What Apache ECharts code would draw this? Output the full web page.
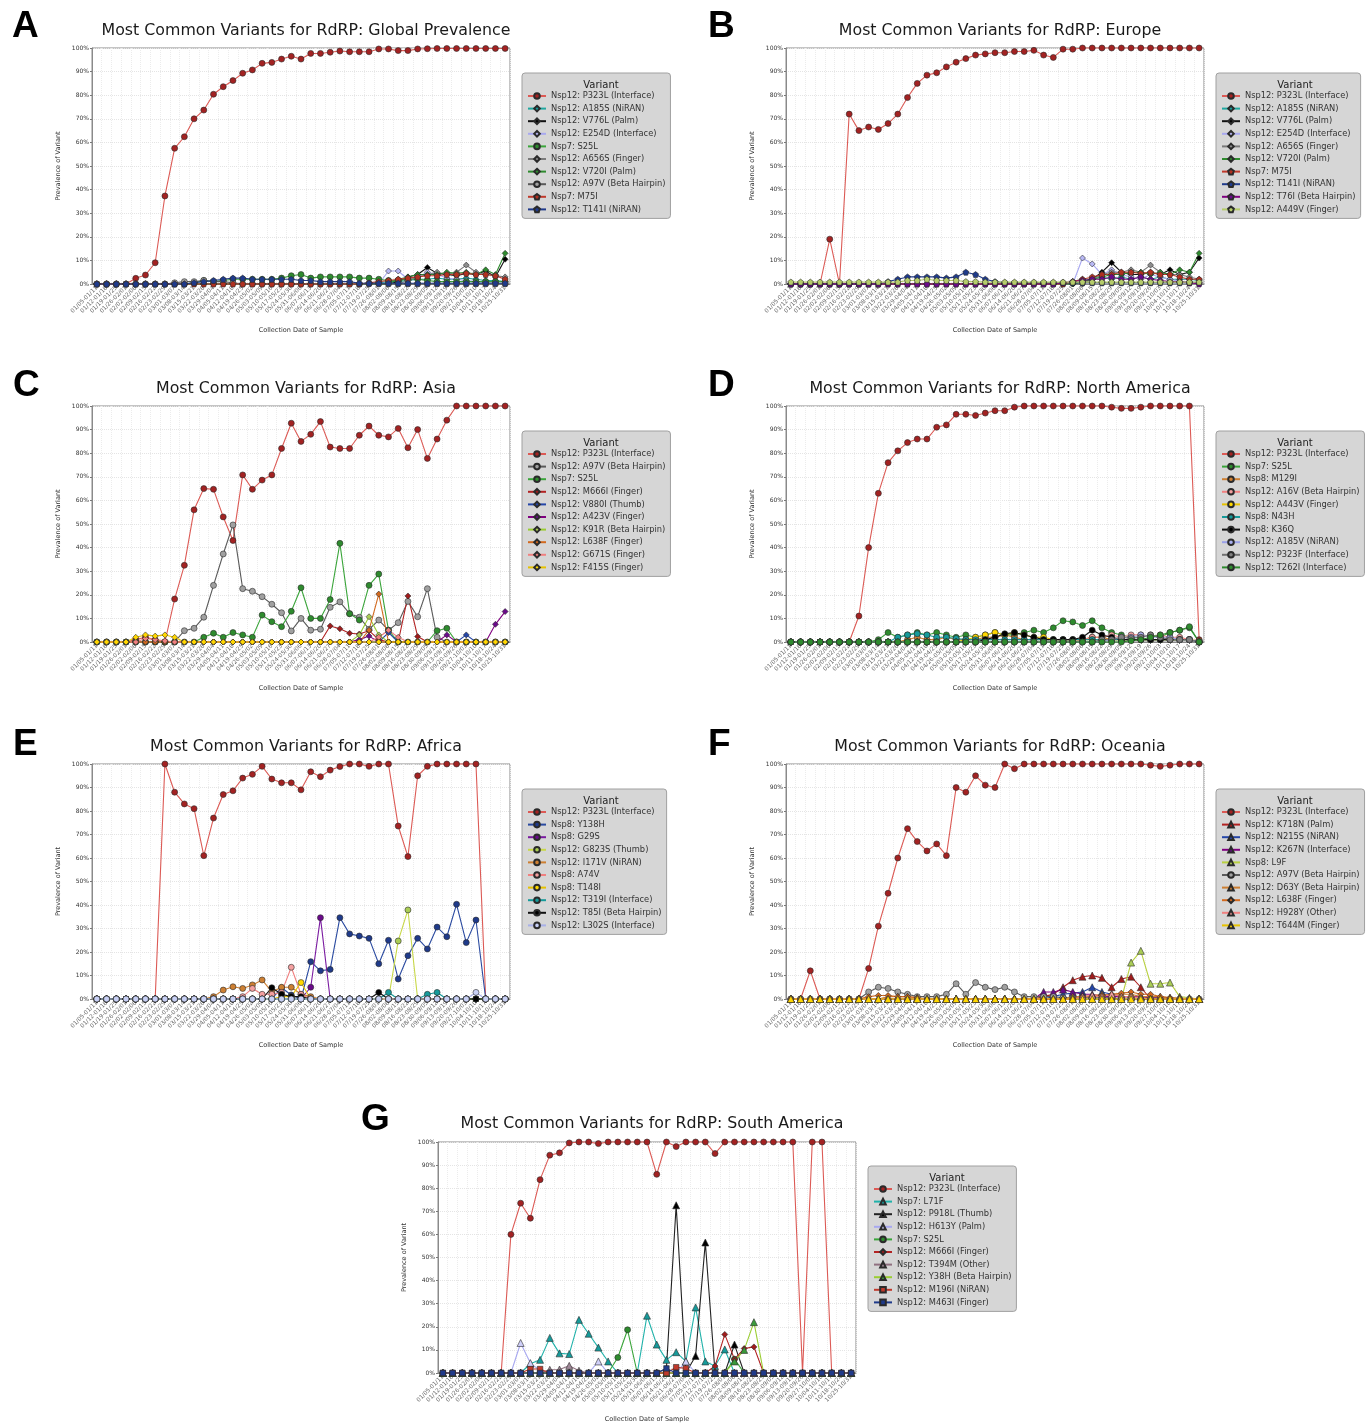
<!DOCTYPE html>
<html>
<head>
<meta charset="utf-8">
<script src="https://cdn.jsdelivr.net/npm/echarts@6/dist/echarts.min.js"></script>
<style>
  html, body { margin: 0; padding: 0; background: #fff; }
  #container { width: 1372px; height: 1424px; }
</style>
</head>
<body>
<div id="container"></div>
<script>
// weekly collection windows (2020)
var weekLabels = ['01/05-01/11','01/12-01/18','01/19-01/25','01/26-02/01','02/02-02/08','02/09-02/15','02/16-02/22','02/23-02/29','03/01-03/07','03/08-03/14',
  '03/15-03/21','03/22-03/28','03/29-04/04','04/05-04/11','04/12-04/18','04/19-04/25','04/26-05/02','05/03-05/09','05/10-05/16','05/17-05/23',
  '05/24-05/30','05/31-06/06','06/07-06/13','06/14-06/20','06/21-06/27','06/28-07/04','07/05-07/11','07/12-07/18','07/19-07/25','07/26-08/01',
  '08/02-08/08','08/09-08/15','08/16-08/22','08/23-08/29','08/30-09/05','09/06-09/12','09/13-09/19','09/20-09/26','09/27-10/03','10/04-10/10',
  '10/11-10/17','10/18-10/24','10/25-10/31'];
var yTicks = [0, 10, 20, 30, 40, 50, 60, 70, 80, 90, 100];

// ---- A: Global
var globalVariants = ['Nsp12: P323L (Interface)', 'Nsp12: A185S (NiRAN)', 'Nsp12: V776L (Palm)', 'Nsp12: E254D (Interface)', 'Nsp7: S25L',
  'Nsp12: A656S (Finger)', 'Nsp12: V720I (Palm)', 'Nsp12: A97V (Beta Hairpin)', 'Nsp7: M75I', 'Nsp12: T141I (NiRAN)'];
var gP323L = [0,0,0,0,2.4,3.8,9,37.3,57.5,62.4, 70,73.7,80.4,83.6,86.2,89.3,90.7,93.5,93.9,95.3, 96.5,95.3,97.7,97.7,98.2,98.7,98.4,98.4,98.4,99.6, 99.6,98.9,98.9,99.6,99.7,99.8,99.8,99.8,99.8,99.8, 99.8,99.8,99.8];
var gA185S = [0,0,0,0,0,0,0,0,0,0, 0,0,0,0,0,0,0,0,0,0, 0,0,0,0,0,0,0,0,0.5,0.5, 1,1,1.5,2,2,2.5,2,2,2.5,2, 1.5,1.5,1];
var gV776L = [0,0,0,0,0,0,0,0,0,0, 0,0,0,0,0,0,0,0,0,0, 0,0,0,0,0,0,0,0,0,0, 0,1,3,4,7,4.5,4,3.5,4.5,4, 5.5,3,10.5];
var gE254D = [0,0,0,0,0,0,0,0,0,0, 0,0,0,0,0,0,0,0,0,0, 0,0,0,0,0,0,0,0,0,0, 5.5,5.5,2,3,5,4,2.5,2,1.5,1, 0.5,0.5,0];
var gS25L = [0,0,0,0,0,0,0,0,0,0, 0.5,1.5,1,1.5,2,2,2,2,2,2.5, 3.5,4,2.5,3,3,3,3,2.5,2.5,2, 1.5,1.5,2,2,1.5,1,1,1,1,1, 1,1,1];
var gA656S = [0,0,0,0,0,0,0,0,0,0, 0,0,0,0,0,0,0,0,0,0, 0,0,0,0,0,0,0,0,0,0, 0,0,1.5,3,4,5,4,5,8,5, 4,3.5,3];
var gV720I = [0,0,0,0,0,0,0,0,0,0, 0,0,0,0,0,0,0,0,0,0, 0,0,0,0,0,0,0,0,0,0, 0,2,3,4,4,4,5,4.5,5,4, 6,4,13];
var gA97V = [0,0,0,0,0,0,0,0,0.5,1, 1,1.5,1,1,0.5,0,0,0,0,0, 0,0,0,0,0,0,0,0,0,0, 0,0,0,0,0,0,0,0,0,0, 0,0,0];
var gM75I = [0,0,0,0,0,0,0,0,0,0, 0,0,0,0,0,0,0,0,0,0, 0,0,0,0,0,0,0,0,0.5,1, 1.5,2,2.5,3,3.5,3.5,4,4,4.5,4, 4,3.5,2];
var gT141I = [0,0,0,0,0,0,0,0,0,0, 0.5,1,1.5,2,2.5,2.5,2,2,2,2, 2,1.5,1.5,1,1,1,1,0.3,0.3,0.3, 0.3,0.3,0.3,0.3,0.3,0.3,0.3,0.3,0.3,0.3, 0.3,0.3,0.3];
var globalValues = [gP323L, gA185S, gV776L, gE254D, gS25L, gA656S, gV720I, gA97V, gM75I, gT141I];

// ---- B: Europe
var europeVariants = ['Nsp12: P323L (Interface)', 'Nsp12: A185S (NiRAN)', 'Nsp12: V776L (Palm)', 'Nsp12: E254D (Interface)', 'Nsp12: A656S (Finger)',
  'Nsp12: V720I (Palm)', 'Nsp7: M75I', 'Nsp12: T141I (NiRAN)', 'Nsp12: T76I (Beta Hairpin)', 'Nsp12: A449V (Finger)'];
var eP323L = [0,0,0,0,19,0,72,65,66.5,65.5, 68,72,79,85,88.5,89.5,92,94,95.5,97, 97.5,98,98,98.5,98.5,99,97,96,99.5,99.5, 100,100,100,100,100,100,100,100,100,100, 100,100,100];
var eA185S = [0,0,0,0,0,0,0,0,0,0, 0,0,0,0,0,0,0,0,0,0, 0,0,0,0,0,0,0,0,0,1, 2,2,3,2,3,2,3,2,3,2, 2,2,1.5];
var eV776L = [0,0,0,0,0,0,0,0,0,0, 0,0,0,0,0,0,0,0,0,0, 0,0,0,0,0,0,0,0,0,0, 1,2,5,9,5,4,4,5,4,6, 4,5,11];
var eE254D = [0,0,0,0,0,0,0,0,0,0, 0,0,0,0,0,0,0,0,0,0, 0,0,0,0,0,0,0,0,0,0, 11,8.5,4,6,4,3,2,4,3,2, 1,1,0.5];
var eA656S = [0,0,0,0,0,0,0,0,0,0, 0,0,0,0,0,0,0,0,0,0, 0,0,0,0,0,0,0,0,0,0, 0,2,4,5,5,6,5,8,5,4, 4,3,2];
var eV720I = [0,0,0,0,0,0,0,0,0,0, 0,0,0,0,0,0,0,0,0,0, 0,0,0,0,0,0,0,0,0,0, 1,2,3,4,4,5,5,4,5,4, 6,5,13];
var eM75I = [0,0,0,0,0,0,0,0,0,0, 0,0,0,0,0,0,0,0,0,0, 0,0,0,0,0,0,0,0,0,1, 2,3,4,4,5,5,4.5,5,4,4, 3,2,2];
var eT141I = [0,0,0,0,0,0,0,0,0,0, 1,2,3,3,3,3,2.5,3,5,4, 2,1,0.5,0.5,0.5,0.5,0.5,0.5,0.5,0.5, 0.5,0.5,0.5,0.5,0.5,0.5,0.5,0.5,0.5,0.5, 0.5,0.5,0.5];
var eT76I = [0,0,0,0,0,0,0,0,0,0, 0,0,0,0,0,0,0,0,0,0, 0,0,0,0,0,0,0,0,0.5,1, 1.5,2,2,3,2,2,3,2,1.5,1, 1,0.5,0];
var eA449V = [0.8,0.8,0.8,0.8,0.8,0.8,0.8,0.8,0.8,0.8, 0.8,0.8,1.5,1.5,2,1.5,1.5,1.5,1,1, 0.8,0.8,0.8,0.8,0.8,0.8,0.8,0.8,0.8,0.8, 0.8,0.8,0.8,0.8,0.8,0.8,0.8,0.8,0.8,0.8, 0.8,0.8,0.8];
var europeValues = [eP323L, eA185S, eV776L, eE254D, eA656S, eV720I, eM75I, eT141I, eT76I, eA449V];

// ---- C: Asia
var asiaVariants = ['Nsp12: P323L (Interface)', 'Nsp12: A97V (Beta Hairpin)', 'Nsp7: S25L', 'Nsp12: M666I (Finger)', 'Nsp12: V880I (Thumb)',
  'Nsp12: A423V (Finger)', 'Nsp12: K91R (Beta Hairpin)', 'Nsp12: L638F (Finger)', 'Nsp12: G671S (Finger)', 'Nsp12: F415S (Finger)'];
var aP323L = [0,0,0,0,1,2,1,0,18.2,32.5, 56,65,64.7,53,43,70.8,64.7,68.6,70.8,82, 92.7,85,88,93.4,82.6,82,82,87.6,91.5,87.6, 86.9,90.5,82.3,90,77.8,86,94,100,100,100, 100,100,100];
var aA97V = [0,0,0,0,0,0,0,0,0,4.8, 5.8,10.5,24,37.3,49.6,22.6,21.5,19.2,16,12.4, 4.7,10,5,5.4,14.7,17,12,10.5,5.4,9.3, 5,8.2,17.2,10.7,22.6,2,0,0,0,0, 0,0,0];
var aS25L = [0,0,0,0,0,0,0,0,0,0, 0,2,3.7,2,4,3,2,11.4,8.6,6.5, 13,23,10,10,18,41.8,12,9.3,24,28.8, 5,0,0,0,0,4.8,5.8,0,0,0, 0,0,0];
var aM666I = [0,0,0,0,0,0,0,0,0,0, 0,0,0,0,0,0,0,0,0,0, 0,0,0,0,6.8,5.6,3.7,3.4,4.8,1, 0,0,19.5,2.3,0,0,0,0,0,0, 0,0,0];
var aV880I = [0,0,0,0,0,0,0,0,0,0, 0,0,0,0,0,0,0,0,0,0, 0,0,0,0,0,0,0,0,0,0, 4,0,0,0,0,0,0,0,3,0, 0,0,0];
var aA423V = [0,0,0,0,0,0,0,0,0,0, 0,0,0,0,0,0,0,0,0,0, 0,0,0,0,0,0,0,1,2.5,0, 0,0,0,0,0,0,3,0,0,0, 0,7.5,12.9];
var aK91R = [0,0,0,0,0,0,0,0,0,0, 0,0,0,0,0,0,0,0,0,0, 0,0,0,0,0,0,0,3,10.7,3, 0,0,0,0,0,0,0,0,0,0, 0,0,0];
var aL638F = [0,0,0,0,0,0,0,0,0,0, 0,0,0,0,0,0,0,0,0,0, 0,0,0,0,0,0,0,0,5,20.3, 0,0,0,0,0,0,0,0,0,0, 0,0,0];
var aG671S = [0,0,0,0,0,1.5,1,0.5,0,0, 0,0,0,0,0,0,0,0,0,0, 0,0,0,0,0,0,0,0,0,2, 5,2,0,0,0,0,0,0,0,0, 0,0,0];
var aF415S = [0,0,0,0,2,3,2.5,3,2,0, 0,0,0,0,0,0,0,0,0,0, 0,0,0,0,0,0,0,0,0,0, 0,0,0,0,0,0,0,0,0,0, 0,0,0];
var asiaValues = [aP323L, aA97V, aS25L, aM666I, aV880I, aA423V, aK91R, aL638F, aG671S, aF415S];

// ---- D: North America
var northAmericaVariants = ['Nsp12: P323L (Interface)', 'Nsp7: S25L', 'Nsp8: M129I', 'Nsp12: A16V (Beta Hairpin)', 'Nsp12: A443V (Finger)',
  'Nsp8: N43H', 'Nsp8: K36Q', 'Nsp12: A185V (NiRAN)', 'Nsp12: P323F (Interface)', 'Nsp12: T262I (Interface)'];
var nP323L = [0,0,0,0,0,0,0,11,40,63, 76,81,84.5,86,86,91,92,96.5,96.5,96, 97,98,98,99.5,100,100,100,100,100,100, 100,100,100,99.5,99,99,99.5,100,100,100, 100,100,1];
var nS25L = [0,0,0,0,0,0,0,0,0,1, 4,2,3,4,3,4,3,2,3,2, 3,4,3,3,4,5,4,6,9,8.5, 7,9,6,4,3,2,2,3,2,4, 5,6,0];
var nM129I = [0,0,0,0,0,0,0,0,0,0, 0,0,1,2,1,1,2,1,1,1, 2,2,3,2,1,1,1,1,1,1, 1,2,2,1,1,1,1,1,1,1, 1,1,0.5];
var nA16V = [0,0,0,0,0,0,0,0,0,0, 0,0,0,0,0,0,0,0,0,0, 0,0,0,0,0,0,0,0,0,0, 1,2,2,3,2,3,3,2,3,2, 2,1,0];
var nA443V = [0,0,0,0,0,0,0,0,0,0, 0,0,0,0,0,0,0,0,1,2, 3,4,3,4,3,2,2,1,1,1, 1,1,1,1,1,1,1,1,1,1, 1,1,0];
var nN43H = [0,0,0,0,0,0,0,0,0,0, 0,2,3,3.5,3,2,2,1.5,1,1, 1,1,1,1,1,1,1,1,1,1, 1,1,1,1,1,1,1,1,1,1, 1,1,0];
var nK36Q = [0,0,0,0,0,0,0,0,0,0, 0,0,0,0,0,0,0,0,0,0, 1,2,3.5,4,3,2,1,1,1,1, 2,5,3,2,1,1,1,1,1,1, 1,1,0];
var nA185V = [0,0,0,0,0,0,0,0,0,0, 0,0,0,0,0,0,0,0,0,0, 0,0,0,0,0,0,0,0,0,0, 0,0,0,1,2,2,3,2,2,2, 1,1,0];
var nP323F = [0,0,0,0,0,0,0,0,0,0, 0,0,0,0,0,0,0,0,0,0, 0,0,0,0,0,0,0,0,0,0, 0,0,1,1,2,1.5,2,3,2,1, 1,1,0];
var nT262I = [0,0,0,0,0,0,0,0,0,0, 0,0,0,0,0,0,0,0,0,0, 0,0,0,0,0,0,0,0,0,0, 0,0,0,0,0,0.5,1,2,3,4, 5,6.5,0];
var northAmericaValues = [nP323L, nS25L, nM129I, nA16V, nA443V, nN43H, nK36Q, nA185V, nP323F, nT262I];

// ---- E: Africa
var africaVariants = ['Nsp12: P323L (Interface)', 'Nsp8: Y138H', 'Nsp8: G29S', 'Nsp12: G823S (Thumb)', 'Nsp12: I171V (NiRAN)',
  'Nsp8: A74V', 'Nsp8: T148I', 'Nsp12: T319I (Interface)', 'Nsp12: T85I (Beta Hairpin)', 'Nsp12: L302S (Interface)'];
var fP323L = [0,0,0,0,0,0,0,100,88,83, 81,61,77,87,88.6,94,95.6,99,93.6,92, 92,89,96.7,94.6,97.4,98.9,100,100,99,100, 100,73.6,60.6,95,99,100,100,100,100,100, 0,0,0];
var fY138H = [0,0,0,0,0,0,0,0,0,0, 0,0,0,0,0,0,0,0,0,4.8, 1.7,0,15.9,12,12.6,34.6,27.7,26.8,25.8,15, 25,8.5,18.4,25.8,21.3,30.6,26.5,40.3,24,33.6, 0,0,0];
var fG29S = [0,0,0,0,0,0,0,0,0,0, 0,0,0,0,0,0,0,0,0,0, 0,0,5,34.6,0,0,0,0,0,0, 0,0,0,0,0,0,0,0,0,0, 0,0,0];
var fG823S = [0,0,0,0,0,0,0,0,0,0, 0,0,0,0,0,0,0,0,0,0, 0,0,0,0,0,0,0,0,0,0, 0,24.7,37.9,0,0,0,0,0,0,0, 0,0,0];
var fI171V = [0,0,0,0,0,0,0,0,0,0, 0,0,1,3.8,5.2,4.5,6,8.1,3,5, 5,2,1,0,0,0,0,0,0,0, 0,0,0,0,0,0,0,0,0,0, 0,0,0];
var fA74V = [0,0,0,0,0,0,0,0,0,0, 0,0,0,0,0,1,4.5,2,2,2.8, 13.5,2,0,0,0,0,0,0,0,0, 0,0,0,0,0,0,0,0,0,0, 0,0,0];
var fT148I = [0,0,0,0,0,0,0,0,0,0, 0,0,0,0,0,0,0,0,0,1, 1,7,0,0,0,0,0,0,0,0, 0,0,0,0,0,0,0,0,0,0, 0,0,0];
var fT319I = [0,0,0,0,0,0,0,0,0,0, 0,0,0,0,0,0,0,0,0,0, 0,0,0,0,0,0,0,0,0,0, 2.8,0,0,0,2,2.8,0,0,0,0, 0,0,0];
var fT85I = [0,0,0,0,0,0,0,0,0,0, 0,0,0,0,0,0,0,0,4.8,2, 1,1,0,0,0,0,0,0,0,2.8, 0,0,0,0,0,0,0,0,0,0, 0,0,0];
var fL302S = [0,0,0,0,0,0,0,0,0,0, 0,0,0,0,0,0,0,0,0,0, 0,0,0,0,0,0,0,0,0,0, 0,0,0,0,0,0,0,0,0,2.8, 0,0,0];
var africaValues = [fP323L, fY138H, fG29S, fG823S, fI171V, fA74V, fT148I, fT319I, fT85I, fL302S];

// ---- F: Oceania
var oceaniaVariants = ['Nsp12: P323L (Interface)', 'Nsp12: K718N (Palm)', 'Nsp12: N215S (NiRAN)', 'Nsp12: K267N (Interface)', 'Nsp8: L9F',
  'Nsp12: A97V (Beta Hairpin)', 'Nsp12: D63Y (Beta Hairpin)', 'Nsp12: L638F (Finger)', 'Nsp12: H928Y (Other)', 'Nsp12: T644M (Finger)'];
var oP323L = [0,0,12,0,0,0,0,0,13,31, 45,60,72.5,67,63,66,61,90,88,95, 91,90,100,98,100,100,100,100,100,100, 100,100,100,100,100,100,100,99.5,99,99.5, 100,100,100];
var oK718N = [0,0,0,0,0,0,0,0,0,0, 0,0,0,0,0,0,0,0,0,0, 0,0,0,0,0,0,1,2,5,8, 9.5,10,9,5,8.5,9.5,5,0,0,0, 0,0,0];
var oN215S = [0,0,0,0,0,0,0,0,0,0, 0,0,0,0,0,0,0,0,0,0, 0,0,0,0,0,0,0,1,2,2.5, 3,5,3,2,1,1,1,0.5,0.5,0.5, 0,0,0];
var oK267N = [0,0,0,0,0,0,0,0,0,0, 0,0,0,0,0,0,0,0,0,0, 0,0,0,0,0,0,3,3,4,3, 2,2,1,1,1,1,1,0.5,0.5,0, 0,0,0];
var oL9F = [0,0,0,0,0,0,0,0,0,0, 0,0,0,0,0,0,0,0,0,0, 0,0,0,0,0,0,0,0,0,0, 0,0,0,0,0,15.5,20.5,6.5,6.5,7, 1,0.5,0];
var oA97V = [0,0,0,0,0,0,0,0,3,5, 4.5,3,2,1,1,1,2,6.5,2,7, 5,4,5,3,1,1,1,1,0.5,0.5, 0.5,0.5,0.5,0.5,0,0,0,0,0,0, 0,0,0];
var oD63Y = [0,0,0,0,0,0,0,0,0,0, 1,1,1,0.5,0,0,0,0,0,0, 0,0,0,0,0,0,0,0,0,1, 1,1.5,2,1.5,2,2,1,1,1,0.5, 0.5,0,0];
var oL638F = [0,0,0,0,0,0,0,0,1,1.5, 1.5,1,1,0.5,0,0,0,0,0,0, 0,0,0,0,0,0,0,0,0,0, 1,1,1.5,2,2.5,3,2,2,1,0.5, 0,0,0];
var oH928Y = [0,0,0,0,0,0,0,0,0,0, 0,0,0,0,0,0,0,0,0,0, 0,0,0,0,0,0,0,0,0,0, 1,1.5,1,2,1,1,0.5,0,0,0, 0,0,0];
var oT644M = [0,0,0,0,0,0,0,0,0,0, 0,0,0,0,0,0,0,0,0,0, 0,0,0,0,0,0,0,0,0,0, 0,0,0,0,0,0,0,0,0,0, 0,0,0];
var oceaniaValues = [oP323L, oK718N, oN215S, oK267N, oL9F, oA97V, oD63Y, oL638F, oH928Y, oT644M];

// ---- G: South America
var southAmericaVariants = ['Nsp12: P323L (Interface)', 'Nsp7: L71F', 'Nsp12: P918L (Thumb)', 'Nsp12: H613Y (Palm)', 'Nsp7: S25L',
  'Nsp12: M666I (Finger)', 'Nsp12: T394M (Other)', 'Nsp12: Y38H (Beta Hairpin)', 'Nsp12: M196I (NiRAN)', 'Nsp12: M463I (Finger)'];
var sP323L = [0,0,0,0,0,0,0,60,73.5,67, 83.7,94.3,95.3,99.6,100,100,99.3,100,100,100, 100,100,86,100,98,100,100,100,95,100, 100,100,100,100,100,100,100,0,100,100, 0,0,0];
var sL71F = [0,0,0,0,0,0,0,0,0,4, 5.7,15.2,8.5,8.2,23,17,11,5,0,0, 0,24.8,12.3,5.7,9,5,28.4,5,3,10.2, 0,0,0,0,0,0,0,0,0,0, 0,0,0];
var sP918L = [0,0,0,0,0,0,0,0,0,0, 0,0,0,0,0,0,0,0,0,0, 0,0,0,2,72.6,0,7.4,56.5,0,0, 12.3,0,0,0,0,0,0,0,0,0, 0,0,0];
var sH613Y = [0,0,0,0,0,0,0,0,13,4.3, 1,0,0,0,0,0,5,0,0,0, 0,0,0,0,0,5,0,0,0,0, 0,0,0,0,0,0,0,0,0,0, 0,0,0];
var sS25L = [0,0,0,0,0,0,0,0,0,0, 0,0,0,0,0,0,0,0,6.7,18.7, 0,0,0,0,0,0,0,0,0,0, 6,0,0,0,0,0,0,0,0,0, 0,0,0];
var sM666I = [0,0,0,0,0,0,0,0,0,0, 0,0,0,0,0,0,0,0,0,0, 0,0,0,0,0,0,0,0,3,16.7, 6,10.6,11.3,0,0,0,0,0,0,0, 0,0,0];
var sT394M = [0,0,0,0,0,0,0,0,0,0, 0,1.4,1.5,3.1,1,0,0,0,0,0, 0,0,0,0,0,0,0,0,0,0, 0,0,0,0,0,0,0,0,0,0, 0,0,0];
var sY38H = [0,0,0,0,0,0,0,0,0,0, 0,0,0,0,0,0,0,0,0,0, 0,0,0,0,0,0,0,0,0,0, 5,10,22,0,0,0,0,0,0,0, 0,0,0];
var sM196I = [0,0,0,0,0,0,0,0,0,1.7, 1.7,0,0,0,0,0,0,0,0,0, 0,0,0,0,2.5,2,0,0,0,0, 0,0,0,0,0,0,0,0,0,0, 0,0,0];
var sM463I = [0,0,0,0,0,0,0,0,0,0, 0,0,0,0,0,0,0,0,0,0, 0,0,0,2,0,0,0,0,0,0, 0,0,0,0,0,0,0,0,0,0, 0,0,0];
var southAmericaValues = [sP323L, sL71F, sP918L, sH613Y, sS25L, sM666I, sT394M, sY38H, sM196I, sM463I];

// marker shape, fill colour, line colour for each variant
var pentagon = 'path://M50,0 L97.6,34.5 L79.4,90.5 L20.6,90.5 L2.4,34.5 Z';
var markerStyles = {
  'Nsp12: P323L (Interface)': ['circle', '#a32222', '#dc5a55'],
  'Nsp12: A185S (NiRAN)': ['diamond', '#169a9a', '#20a8a0'],
  'Nsp12: V776L (Palm)': ['diamond', '#000000', '#111111'],
  'Nsp12: E254D (Interface)': ['diamond', '#b8b8f5', '#a8a8f0'],
  'Nsp7: S25L': ['circle', '#2e8b2e', '#3aa53a'],
  'Nsp12: A656S (Finger)': ['diamond', '#8c8c8c', '#7a7a7a'],
  'Nsp12: V720I (Palm)': ['diamond', '#2e8b2e', '#2e8b2e'],
  'Nsp12: A97V (Beta Hairpin)': ['circle', '#a0a0a0', '#5a5a5a'],
  'Nsp7: M75I': [pentagon, '#b03020', '#c0392b'],
  'Nsp12: T141I (NiRAN)': [pentagon, '#1f3a8a', '#1f3a8a'],
  'Nsp12: T76I (Beta Hairpin)': [pentagon, '#6a0a8a', '#800080'],
  'Nsp12: A449V (Finger)': [pentagon, '#b5cc6a', '#b5cc6a'],
  'Nsp12: M666I (Finger)': ['diamond', '#a01c1c', '#b22222'],
  'Nsp12: V880I (Thumb)': ['diamond', '#2546a8', '#2546a8'],
  'Nsp12: A423V (Finger)': ['diamond', '#6a0a8a', '#800080'],
  'Nsp12: K91R (Beta Hairpin)': ['diamond', '#aacd55', '#9acd32'],
  'Nsp12: L638F (Finger)': ['diamond', '#d2691e', '#d2691e'],
  'Nsp12: G671S (Finger)': ['diamond', '#f08080', '#f08080'],
  'Nsp12: F415S (Finger)': ['diamond', '#ffd700', '#e6c200'],
  'Nsp8: M129I': ['circle', '#cd7f32', '#cd7f32'],
  'Nsp12: A16V (Beta Hairpin)': ['circle', '#f4a0a0', '#f08080'],
  'Nsp12: A443V (Finger)': ['circle', '#ffd700', '#e6c200'],
  'Nsp8: N43H': ['circle', '#169a9a', '#169a9a'],
  'Nsp8: K36Q': ['circle', '#000000', '#111111'],
  'Nsp12: A185V (NiRAN)': ['circle', '#aab0f0', '#9aa0e8'],
  'Nsp12: P323F (Interface)': ['circle', '#808080', '#707070'],
  'Nsp12: T262I (Interface)': ['circle', '#2e8b2e', '#2e8b2e'],
  'Nsp8: Y138H': ['circle', '#1f3a8a', '#2a4aa0'],
  'Nsp8: G29S': ['circle', '#6a0a8a', '#7a1aa0'],
  'Nsp12: G823S (Thumb)': ['circle', '#aacd55', '#c8d848'],
  'Nsp12: I171V (NiRAN)': ['circle', '#cd7f32', '#cd7f32'],
  'Nsp8: A74V': ['circle', '#f4a0a0', '#f08080'],
  'Nsp8: T148I': ['circle', '#ffd700', '#e6c200'],
  'Nsp12: T319I (Interface)': ['circle', '#169a9a', '#169a9a'],
  'Nsp12: T85I (Beta Hairpin)': ['circle', '#000000', '#111111'],
  'Nsp12: L302S (Interface)': ['circle', '#c8d0f5', '#a8b0e8'],
  'Nsp12: K718N (Palm)': ['triangle', '#a01c1c', '#b22222'],
  'Nsp12: N215S (NiRAN)': ['triangle', '#2546a8', '#2546a8'],
  'Nsp12: K267N (Interface)': ['triangle', '#6a0a8a', '#800080'],
  'Nsp8: L9F': ['triangle', '#aacd55', '#b8d040'],
  'Nsp12: D63Y (Beta Hairpin)': ['triangle', '#cd7f32', '#cd7f32'],
  'Nsp12: H928Y (Other)': ['triangle', '#f4a0a0', '#f08080'],
  'Nsp12: T644M (Finger)': ['triangle', '#ffd700', '#e6c200'],
  'Nsp7: L71F': ['triangle', '#169a9a', '#20b2aa'],
  'Nsp12: P918L (Thumb)': ['triangle', '#000000', '#222222'],
  'Nsp12: H613Y (Palm)': ['triangle', '#d0d0fa', '#a8a8f0'],
  'Nsp12: T394M (Other)': ['triangle', '#a08898', '#907080'],
  'Nsp12: Y38H (Beta Hairpin)': ['triangle', '#3a9a3a', '#9acd32'],
  'Nsp12: M196I (NiRAN)': ['rect', '#c0392b', '#c0392b'],
  'Nsp12: M463I (Finger)': ['rect', '#1f3a8a', '#1f3a8a']
};

var panels = [
  { letter: 'A', title: 'Most Common Variants for RdRP: Global Prevalence', variants: globalVariants, values: globalValues,
    lx: 7, ly: 3, tx: 301, ty: 18, grid: { left: 92, top: 48, width: 418, height: 236 }, leg: { left: 522, top: 73 } },
  { letter: 'B', title: 'Most Common Variants for RdRP: Europe', variants: europeVariants, values: europeValues,
    lx: 703, ly: 3, tx: 995, ty: 18, grid: { left: 786, top: 48, width: 418, height: 236 }, leg: { left: 1216, top: 73 } },
  { letter: 'C', title: 'Most Common Variants for RdRP: Asia', variants: asiaVariants, values: asiaValues,
    lx: 8, ly: 362, tx: 301, ty: 376, grid: { left: 92, top: 406, width: 418, height: 236 }, leg: { left: 522, top: 431 } },
  { letter: 'D', title: 'Most Common Variants for RdRP: North America', variants: northAmericaVariants, values: northAmericaValues,
    lx: 703, ly: 362, tx: 995, ty: 376, grid: { left: 786, top: 406, width: 418, height: 236 }, leg: { left: 1216, top: 431 } },
  { letter: 'E', title: 'Most Common Variants for RdRP: Africa', variants: africaVariants, values: africaValues,
    lx: 8, ly: 721, tx: 301, ty: 734, grid: { left: 92, top: 764, width: 418, height: 235 }, leg: { left: 522, top: 789 } },
  { letter: 'F', title: 'Most Common Variants for RdRP: Oceania', variants: oceaniaVariants, values: oceaniaValues,
    lx: 703, ly: 721, tx: 995, ty: 734, grid: { left: 786, top: 764, width: 418, height: 235 }, leg: { left: 1216, top: 789 } },
  { letter: 'G', title: 'Most Common Variants for RdRP: South America', variants: southAmericaVariants, values: southAmericaValues,
    lx: 356, ly: 1096, tx: 647, ty: 1111, grid: { left: 438, top: 1142, width: 418, height: 235 }, leg: { left: 868, top: 1166 } }
];

var titles = [], grids = [], xAxes = [], yAxes = [], legends = [], series = [];

panels.forEach(function (p, i) {
  titles.push({ text: p.letter, left: p.lx, top: p.ly,
    textStyle: { fontSize: 37, fontWeight: 'bold', color: '#000', fontFamily: 'Liberation Sans' } });
  titles.push({ text: p.title, left: p.tx, top: p.ty, textAlign: 'center',
    textStyle: { fontSize: 15.8, fontWeight: 'normal', color: '#1a1a1a', fontFamily: 'DejaVu Sans' } });
  titles.push({ text: 'Variant', left: p.leg.left + 74, top: p.leg.top + 2, textAlign: 'center',
    textStyle: { fontSize: 10, fontWeight: 'normal', color: '#222', fontFamily: 'DejaVu Sans' } });

  grids.push({ left: p.grid.left, top: p.grid.top, width: p.grid.width, height: p.grid.height,
    show: true, borderColor: '#8a8a8a', borderWidth: 1, backgroundColor: '#fff' });

  xAxes.push({
    type: 'category', gridIndex: i, data: weekLabels, boundaryGap: true,
    name: 'Collection Date of Sample', nameLocation: 'middle', nameGap: 43,
    nameTextStyle: { fontSize: 6.5, color: '#333' },
    axisLine: { lineStyle: { color: '#8a8a8a' } },
    axisTick: { show: true, alignWithLabel: true, interval: 0, length: 2, lineStyle: { color: '#777' } },
    axisLabel: { rotate: 45, interval: 0, fontSize: 5.8, color: '#666', margin: 3 },
    splitLine: { show: true, interval: 0, lineStyle: { color: '#ececec', type: 'dotted' } }
  });

  yAxes.push({
    type: 'value', gridIndex: i, min: yTicks[0], max: yTicks[yTicks.length - 1], interval: 10,
    name: 'Prevalence of Variant', nameLocation: 'middle', nameGap: 30, nameRotate: 90,
    nameTextStyle: { fontSize: 6.5, color: '#333' },
    axisLine: { show: true, lineStyle: { color: '#8a8a8a' } },
    axisTick: { show: true, length: 2, lineStyle: { color: '#777' } },
    axisLabel: { formatter: '{value}%', fontSize: 6, color: '#333', margin: 3 },
    splitLine: { show: true, lineStyle: { color: '#e4e4e4', type: 'dotted' } }
  });

  legends.push({
    orient: 'vertical', left: p.leg.left, top: p.leg.top, data: p.variants, selectedMode: false,
    backgroundColor: '#d6d6d6', borderColor: '#a0a0a0', borderWidth: 1, borderRadius: 3,
    padding: [19, 5, 5, 5], itemWidth: 18, itemHeight: 7, itemGap: 4.6,
    textStyle: { fontSize: 8.3, color: '#333', fontFamily: 'DejaVu Sans' }
  });

  p.variants.forEach(function (name, k) {
    var st = markerStyles[name];
    var sym = st[0];
    series.push({
      type: 'line', name: name, xAxisIndex: i, yAxisIndex: i, data: p.values[k],
      symbol: sym, symbolSize: sym === 'triangle' ? 7 : (sym === 'rect' ? 5.5 : 6),
      showSymbol: true, showAllSymbol: true, clip: false, animation: false,
      lineStyle: { width: 1.1, color: st[2] },
      itemStyle: { color: st[1], borderColor: '#2a2a2a', borderWidth: 0.6 },
      emphasis: { disabled: true }
    });
  });
});

var chart = echarts.init(document.getElementById('container'), null, { renderer: 'canvas' });
chart.setOption({
  backgroundColor: '#fff',
  animation: false,
  textStyle: { fontFamily: 'DejaVu Sans' },
  title: titles,
  grid: grids,
  xAxis: xAxes,
  yAxis: yAxes,
  legend: legends,
  series: series
});
</script>
</body>
</html>
